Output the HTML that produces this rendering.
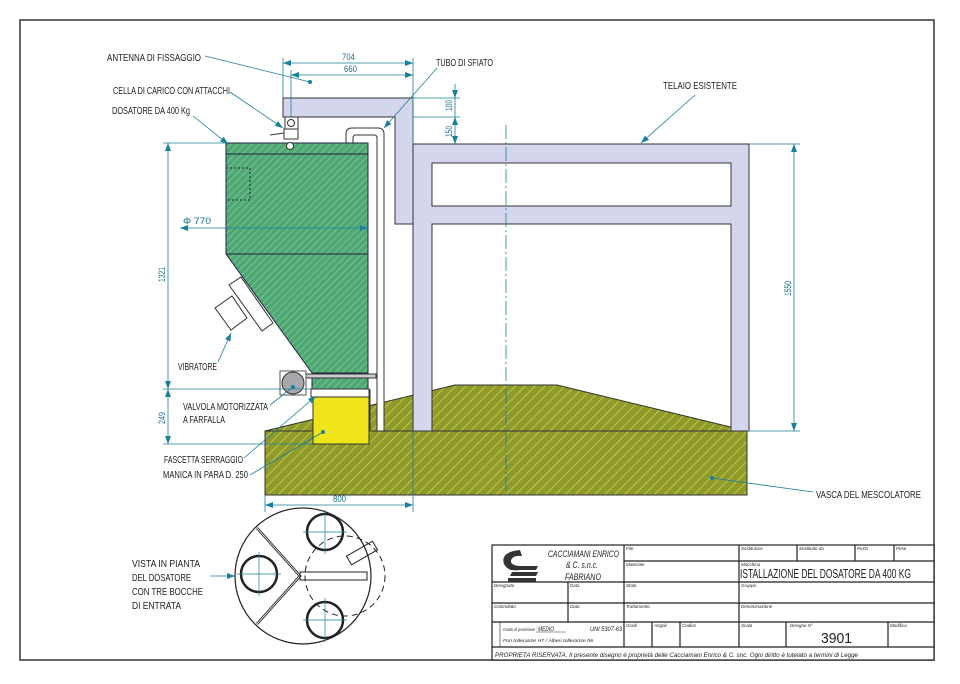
<!DOCTYPE html>
<html><head><meta charset="utf-8"><style>
html,body{margin:0;padding:0;background:#fff;}
svg{display:block}
text{font-family:"Liberation Sans Narrow","Liberation Sans",sans-serif;fill:#222;}
.lb{font-size:10.5px;}
.dm{font-size:9.5px;fill:#1a6f8a;}
.sm{font-size:4.5px;font-style:italic;fill:#333}
.it{font-style:italic}
</style></head><body>
<svg width="960" height="684" viewBox="0 0 960 684" xmlns="http://www.w3.org/2000/svg">
<defs>
<pattern id="gh" patternUnits="userSpaceOnUse" width="5" height="5" patternTransform="rotate(45)">
<rect width="5" height="5" fill="#4fa873"/><line x1="0" y1="0" x2="0" y2="5" stroke="#8fd0a6" stroke-width="1.2"/></pattern>
<pattern id="yh" patternUnits="userSpaceOnUse" width="7" height="7" patternTransform="rotate(45)">
<rect width="7" height="7" fill="#8e9a2c"/><line x1="0" y1="0" x2="0" y2="7" stroke="#d7d24a" stroke-width="1.5"/></pattern>
<marker id="ar" markerWidth="8" markerHeight="6" refX="8" refY="3" orient="auto" markerUnits="userSpaceOnUse"><path d="M0,0L8,3L0,6z" fill="#1a7f9a"/></marker>
<marker id="as" markerWidth="8" markerHeight="6" refX="0" refY="3" orient="auto" markerUnits="userSpaceOnUse"><path d="M8,0L0,3L8,6z" fill="#1a7f9a"/></marker>
</defs>
<rect x="20" y="20" width="914" height="640" fill="none" stroke="#333" stroke-width="1.5"/>

<polygon points="265,431 455,385 557,385 747,431" fill="url(#yh)" stroke="#333"/>
<rect x="265" y="431" width="482" height="64" fill="url(#yh)" stroke="#333"/>

<path d="M413,144H749V431H731V224H432V431H413Z M432,163V206H731V163Z" fill="#d4d6ee" fill-rule="evenodd" stroke="#333"/>
<path d="M283,98H413V224H395V117H283Z" fill="#d4d6ee" stroke="#333"/>

<path d="M346,143V134Q346,128 352,128H378Q384,128 384,134V431H377V138Q377,135 374,135H356Q353,135 353,138V143" fill="#fff" stroke="#333"/>
<line x1="368" y1="143" x2="368" y2="430" stroke="#333"/>
<line x1="370" y1="389" x2="370" y2="430" stroke="#333"/>

<path d="M226,143H368V373H312L226,254Z" fill="url(#gh)" stroke="#224" stroke-width="1"/>
<line x1="226" y1="154" x2="368" y2="154" stroke="#224"/>
<line x1="226" y1="254" x2="368" y2="254" stroke="#224"/>
<rect x="312" y="373" width="56" height="16" fill="url(#gh)" stroke="#224"/>
<rect x="226" y="168" width="24" height="32" fill="none" stroke="#224" stroke-dasharray="2,2"/>
<rect x="296" y="374" width="80" height="4" fill="#ccc" stroke="#333"/>
<rect x="311" y="389" width="58" height="8" fill="#fff" stroke="#333"/>
<rect x="313" y="397" width="56" height="47" fill="#f0e41a" stroke="#333"/>
<rect x="280" y="371" width="26" height="24" fill="#fff" stroke="#555"/>
<circle cx="293" cy="383" r="11" fill="#a8a8ac" stroke="#333"/>
<polygon points="241,277 273,323 262,331 229,285" fill="#fff" stroke="#333"/>
<polygon points="215,308 232,296 247,318 231,330" fill="#fff" stroke="#333"/>
<rect x="285" y="117" width="13" height="12" fill="#fff" stroke="#333"/><circle cx="291" cy="123" r="3.5" fill="none" stroke="#333"/>
<rect x="284" y="129" width="14" height="10" fill="#fff" stroke="#333"/>
<line x1="270" y1="135" x2="284" y2="133" stroke="#333"/>
<circle cx="290" cy="146" r="3.5" fill="#fff" stroke="#333"/>

<line x1="506" y1="125" x2="506" y2="495" stroke="#1a7f9a" stroke-width="0.8" stroke-dasharray="14,3,2,3"/>

<g stroke="#1a7f9a" stroke-width="0.8" fill="none">
<line x1="283" y1="58" x2="283" y2="98"/><line x1="413" y1="58" x2="413" y2="144"/>
<line x1="283" y1="63" x2="413" y2="63" marker-start="url(#as)" marker-end="url(#ar)"/>
<line x1="291" y1="70" x2="291" y2="117"/>
<line x1="291" y1="75" x2="413" y2="75" marker-start="url(#as)" marker-end="url(#ar)"/>
<line x1="413" y1="98" x2="460" y2="98"/><line x1="413" y1="117" x2="460" y2="117"/>
<line x1="455" y1="84" x2="455" y2="98" marker-end="url(#ar)"/><line x1="455" y1="117" x2="455" y2="98"/>
<line x1="455" y1="117" x2="455" y2="144" marker-start="url(#as)" marker-end="url(#ar)"/>
<line x1="163" y1="143" x2="226" y2="143"/><line x1="163" y1="389" x2="311" y2="389"/><line x1="163" y1="444" x2="313" y2="444"/>
<line x1="168" y1="143" x2="168" y2="389" marker-start="url(#as)" marker-end="url(#ar)"/>
<line x1="168" y1="389" x2="168" y2="444" marker-start="url(#as)" marker-end="url(#ar)"/>
<line x1="180" y1="228" x2="368" y2="228" marker-start="url(#as)" marker-end="url(#ar)"/>
<line x1="265" y1="495" x2="265" y2="512"/><line x1="413" y1="431" x2="413" y2="512"/>
<line x1="265" y1="505" x2="413" y2="505" marker-start="url(#as)" marker-end="url(#ar)"/>
<line x1="749" y1="144" x2="800" y2="144"/><line x1="747" y1="431" x2="800" y2="431"/>
<line x1="794" y1="144" x2="794" y2="431" marker-start="url(#as)" marker-end="url(#ar)"/>
<line x1="205" y1="56" x2="310" y2="82"/>
<line x1="230" y1="92" x2="283" y2="128" marker-end="url(#ar)"/>
<line x1="193" y1="116" x2="228" y2="144" marker-end="url(#ar)"/>
<line x1="437" y1="68" x2="384" y2="128" marker-end="url(#ar)"/>
<line x1="695" y1="95" x2="641" y2="143" marker-end="url(#ar)"/>
<line x1="218" y1="362" x2="231" y2="333" marker-end="url(#ar)"/>
<line x1="270" y1="405" x2="293" y2="387"/>
<line x1="244" y1="458" x2="316" y2="396" marker-end="url(#ar)"/>
<line x1="250" y1="475" x2="323" y2="432"/>
<line x1="813" y1="492" x2="712" y2="478"/>
<line x1="210" y1="576" x2="235" y2="576" marker-end="url(#ar)"/>
</g>
<g fill="#1a7f9a"><circle cx="310" cy="82" r="2"/><circle cx="293" cy="387" r="2"/><circle cx="323" cy="432" r="2"/><circle cx="712" cy="478" r="2"/></g>

<text class="dm" x="342" y="60" textLength="13" lengthAdjust="spacingAndGlyphs">704</text>
<text class="dm" x="344" y="72" textLength="13" lengthAdjust="spacingAndGlyphs">660</text>
<text class="dm" transform="translate(452,111) rotate(-90)" textLength="11" lengthAdjust="spacingAndGlyphs">100</text>
<text class="dm" transform="translate(452,137) rotate(-90)" textLength="11" lengthAdjust="spacingAndGlyphs">150</text>
<text class="dm" transform="translate(165,282) rotate(-90)" textLength="15" lengthAdjust="spacingAndGlyphs">1321</text>
<text class="dm" transform="translate(165,424) rotate(-90)" textLength="12" lengthAdjust="spacingAndGlyphs">249</text>
<text class="dm" x="183" y="224" textLength="28" lengthAdjust="spacingAndGlyphs">Φ 770</text>
<text class="dm" x="333" y="502" textLength="13" lengthAdjust="spacingAndGlyphs">800</text>
<text class="dm" transform="translate(791,296) rotate(-90)" textLength="15" lengthAdjust="spacingAndGlyphs">1550</text>

<g class="lb">
<text x="107" y="61" textLength="94" lengthAdjust="spacingAndGlyphs">ANTENNA DI FISSAGGIO</text>
<text x="113" y="94" textLength="117" lengthAdjust="spacingAndGlyphs">CELLA DI CARICO CON ATTACCHI</text>
<text x="112" y="114" textLength="78" lengthAdjust="spacingAndGlyphs">DOSATORE DA 400 Kg</text>
<text x="436" y="66" textLength="57" lengthAdjust="spacingAndGlyphs">TUBO DI SFIATO</text>
<text x="663" y="89" textLength="74" lengthAdjust="spacingAndGlyphs">TELAIO ESISTENTE</text>
<text x="178" y="370" textLength="39" lengthAdjust="spacingAndGlyphs">VIBRATORE</text>
<text x="183" y="410" textLength="85" lengthAdjust="spacingAndGlyphs">VALVOLA MOTORIZZATA</text>
<text x="183" y="423" textLength="42" lengthAdjust="spacingAndGlyphs">A FARFALLA</text>
<text x="164" y="463" textLength="79" lengthAdjust="spacingAndGlyphs">FASCETTA SERRAGGIO</text>
<text x="163" y="478" textLength="85" lengthAdjust="spacingAndGlyphs">MANICA IN PARA D. 250</text>
<text x="816" y="498" textLength="105" lengthAdjust="spacingAndGlyphs">VASCA DEL MESCOLATORE</text>
<text x="132" y="567" textLength="68" lengthAdjust="spacingAndGlyphs">VISTA IN PIANTA</text>
<text x="132" y="581" textLength="59" lengthAdjust="spacingAndGlyphs">DEL DOSATORE</text>
<text x="132" y="595" textLength="71" lengthAdjust="spacingAndGlyphs">CON TRE BOCCHE</text>
<text x="132" y="609" textLength="49" lengthAdjust="spacingAndGlyphs">DI ENTRATA</text>
</g>

<g fill="none" stroke="#222">
<circle cx="303" cy="576" r="68" stroke-width="1.2"/>
<path d="M257,528L300,576L257,624" stroke-width="2.5"/><path d="M257,528L300,576L257,624" stroke="#fff" stroke-width="0.8"/>
<circle cx="345" cy="576" r="40" stroke-dasharray="6,4"/>
<rect x="300" y="572" width="67" height="8" stroke-width="1"/>
<rect x="347" y="548" width="30" height="10" transform="rotate(-30 362 553)"/>
<circle cx="259" cy="574" r="18" stroke-width="2.5"/>
<circle cx="325" cy="532" r="18" stroke-width="2.5"/>
<circle cx="325" cy="620" r="18" stroke-width="2.5"/>
</g>
<g stroke="#1a7f9a" stroke-width="0.7"><line x1="237" y1="574" x2="281" y2="574"/><line x1="259" y1="552" x2="259" y2="596"/>
<line x1="303" y1="532" x2="347" y2="532"/><line x1="325" y1="510" x2="325" y2="554"/>
<line x1="303" y1="620" x2="347" y2="620"/><line x1="325" y1="598" x2="325" y2="642"/></g>

<g fill="none" stroke="#222" stroke-width="1.2">
<rect x="492" y="545" width="442" height="115" fill="#fff"/>
<line x1="624" y1="545" x2="624" y2="647"/><line x1="739" y1="545" x2="739" y2="647"/>
<line x1="624" y1="561" x2="934" y2="561"/><line x1="492" y1="582" x2="934" y2="582"/>
<line x1="492" y1="603" x2="934" y2="603"/><line x1="492" y1="622" x2="934" y2="622"/>
<line x1="492" y1="647" x2="934" y2="647"/>
<line x1="568" y1="582" x2="568" y2="622"/>
<line x1="797" y1="545" x2="797" y2="561"/><line x1="855" y1="545" x2="855" y2="561"/><line x1="894" y1="545" x2="894" y2="561"/>
<line x1="652" y1="622" x2="652" y2="647"/><line x1="680" y1="622" x2="680" y2="647"/>
<line x1="786" y1="622" x2="786" y2="647"/><line x1="888" y1="622" x2="888" y2="647"/>
<line x1="500" y1="622" x2="500" y2="647" stroke-width="0.6"/>
</g>
<g fill="#333"><path d="M520,550Q500,552 504,564Q508,572 520,570L519,566Q510,565 511,560Q513,555 522,556Z"/>
<polygon points="512,566 538,566 536,570 510,570"/><polygon points="512,572 538,572 536,576 510,576"/><rect x="508" y="578" width="28" height="4"/></g>
<text class="it" x="548" y="557" font-size="9" textLength="71" lengthAdjust="spacingAndGlyphs">CACCIAMANI ENRICO</text>
<text class="it" x="566" y="568" font-size="9" textLength="32" lengthAdjust="spacingAndGlyphs">&amp; C. s.n.c.</text>
<text class="it" x="565" y="580" font-size="9" textLength="36" lengthAdjust="spacingAndGlyphs">FABRIANO</text>
<g class="sm">
<text x="626" y="550">File</text><text x="741" y="550">Sostituisce</text><text x="799" y="550">Sostituito da</text><text x="857" y="550">Pezzi</text><text x="896" y="550">Peso</text>
<text x="626" y="566">Materiale</text><text x="741" y="566">Macchina</text>
<text x="626" y="587">Stato</text><text x="741" y="587">Gruppo</text>
<text x="494" y="587">Disegnato</text><text x="570" y="587">Data</text>
<text x="626" y="608">Trattamento</text><text x="741" y="608">Denominazione</text>
<text x="494" y="608">Controllato</text><text x="570" y="608">Data</text>
<text x="626" y="627">Gradi</text><text x="654" y="627">Angoli</text><text x="682" y="627">Codice</text>
<text x="741" y="627">Scala</text><text x="790" y="627">Disegno N°</text><text x="890" y="627">Modifica</text>
<text x="503" y="631" textLength="32" lengthAdjust="spacingAndGlyphs">Grado di precisione</text><text x="503" y="642" textLength="90" lengthAdjust="spacingAndGlyphs">Fori tolleranze  H7  /  Alberi tolleranze  h6</text>
</g>
<text class="it" x="538" y="631" font-size="6" textLength="16" lengthAdjust="spacingAndGlyphs">MEDIO</text>
<line x1="536" y1="632" x2="566" y2="632" stroke="#333" stroke-width="0.5"/>
<text class="it" x="590" y="631" font-size="6" textLength="32" lengthAdjust="spacingAndGlyphs">UNI 5307-63</text>
<text x="740" y="578" font-size="13" textLength="171" lengthAdjust="spacingAndGlyphs">ISTALLAZIONE DEL DOSATORE DA 400 KG</text>
<text x="821" y="643" font-size="15" textLength="31" lengthAdjust="spacingAndGlyphs">3901</text>
<text class="it" x="495" y="657" font-size="6.5" textLength="363" lengthAdjust="spacingAndGlyphs">PROPRIETA RISERVATA. Il presente disegno è proprietà delle Cacciamani Enrico &amp; C. snc. Ogni diritto è tutelato a termini di Legge</text>
</svg>
</body></html>
